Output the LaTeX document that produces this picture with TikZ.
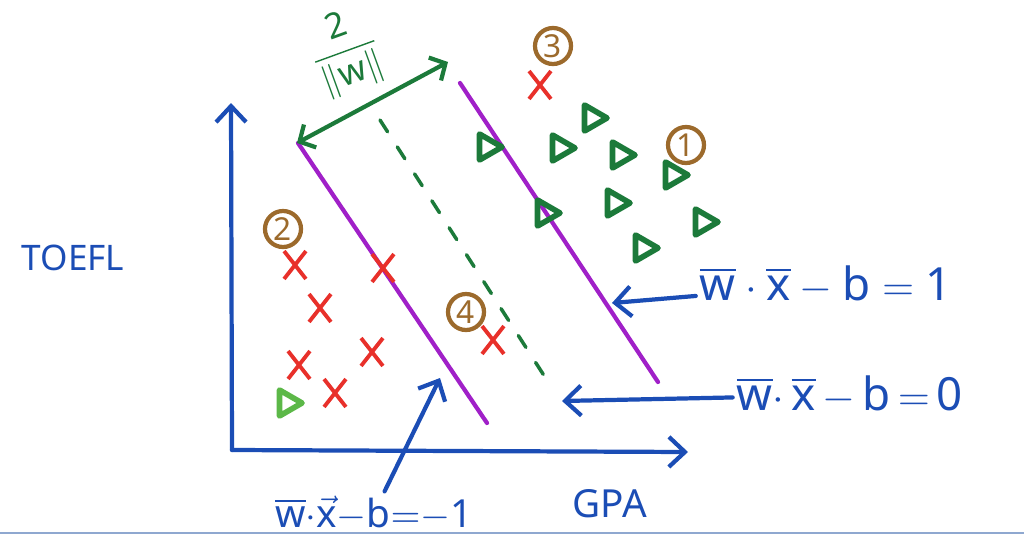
\documentclass[tikz,border=0pt]{standalone}
\usepackage{amsmath}
\usepackage{fontspec}
\setmainfont{Noto Sans}
\usepackage{tikz}
\usetikzlibrary{shapes.geometric,shapes.misc,arrows.meta}
\definecolor{penblue}{HTML}{1B4DB5}
\definecolor{penpurple}{HTML}{A020C8}
\definecolor{pengreen}{HTML}{1C7A3A}
\definecolor{penlime}{HTML}{5CB848}
\definecolor{penred}{HTML}{E8302A}
\definecolor{penbrown}{HTML}{9C6A2C}
\definecolor{pageline}{HTML}{8FA8D0}

\begin{document}
\begin{tikzpicture}[x=0.01cm,y=-0.01cm,
  pen/.style={line width=1.2pt,line cap=round,line join=round},
  barb/.style={-{Straight Barb[length=1.6mm,width=3mm]}},
  redx/.style={draw=penred,cross out,line width=1.1pt,minimum width=0.18cm,minimum height=0.24cm,inner sep=0pt},
  tri/.style={draw=pengreen,regular polygon,regular polygon sides=3,shape border rotate=-90,line width=1.6pt,line join=round,minimum size=0.3cm,inner sep=0pt},
  num/.style={circle,draw=penbrown,text=penbrown,line width=1.2pt,minimum size=0.36cm,inner sep=0pt,font=\fontsize{9}{9}\selectfont},
  eqn/.style={text=penblue,font=\fontsize{13}{15}\selectfont,inner sep=1pt},
  tag/.style={text=penblue,font=\fontsize{10}{12}\selectfont}
]
\useasboundingbox (0,0) rectangle (1024,545);
% axes
\coordinate (O) at (232,450);
\coordinate (ytip) at (231,103);
\coordinate (xtip) at (688,452);
\draw[pen,draw=penblue,barb] (O) -- (ytip);
\draw[pen,draw=penblue,barb] (O) -- (xtip);
\node[tag] (toefl) at (73,258) {TOEFL};
\node[tag,font=\fontsize{11}{12}\selectfont] (gpa) at (610,504) {GPA};
% margins and separator
\coordinate (a1) at (298,143);
\coordinate (a2) at (487,423);
\coordinate (b1) at (460,83);
\coordinate (b2) at (658,382);
\coordinate (d1) at (380,120);
\coordinate (d2) at (552,388);
\draw[pen,draw=penpurple] (a1) -- (a2);
\draw[pen,draw=penpurple] (b1) -- (b2);
\draw[pen,line width=1pt,draw=pengreen,dash pattern=on 0.14cm off 0.18cm] (d1) -- (d2);
% width of the street
\coordinate (m1) at (297,143);
\coordinate (m2) at (448,62);
\draw[pen,draw=pengreen,{Straight Barb[length=1.2mm,width=2.6mm]}-{Straight Barb[length=1.2mm,width=2.6mm]}] (m1) -- (m2);
\node[text=pengreen,rotate=20,inner sep=0pt,font=\fontsize{10}{11}\selectfont] (gap) at (345,52) {$\dfrac{\text{2}}{\|\text{w}\|}$};
% points
\node[redx] (x3) at (540,85) {};
\node[redx] (xa) at (295,265) {};
\node[redx] (xb) at (383,268) {};
\node[redx] (xc) at (320,308) {};
\node[redx] (xd) at (372,352) {};
\node[redx] (xe) at (299,365) {};
\node[redx] (xf) at (335,393) {};
\node[redx] (x4) at (493,340) {};
\node[tri] (ta) at (592,118) {};
\node[tri] (tb) at (487,147) {};
\node[tri] (tc) at (560,148) {};
\node[tri] (td) at (620,155) {};
\node[tri] (t1) at (673,175) {};
\node[tri] (te) at (615,203) {};
\node[tri] (tf) at (545,213) {};
\node[tri] (tg) at (703,222) {};
\node[tri] (th) at (643,248) {};
\node[tri,draw=penlime] (t2) at (287,403) {};
% numbered remarks
\node[num] (n3) at (553,46) {3};
\node[num] (n1) at (686,145) {1};
\node[num] (n2) at (283,229) {2};
\node[num] (n4) at (466,312) {4};
% equations
\node[eqn] (eqp) at (826,285) {$\overline{\text{w}}\cdot\overline{\text{x}}-\text{b}=\text{1}$};
\node[eqn] (eqz) at (850,395) {$\overline{\text{w}}{\cdot}\,\overline{\text{x}}\,{-}\,\text{b}\,{=}\,\text{0}$};
\node[eqn,font=\fontsize{11}{13}\selectfont] (eqm) at (374,513) {$\overline{\text{w}}{\cdot}\vec{\text{x}}{-}\text{b}{=}{-}\text{1}$};
\coordinate (tp) at (612,303);
\coordinate (tz) at (562,401);
\coordinate (tm) at (440,378);
\draw[pen,draw=penblue,barb] (eqp) -- (tp);
\draw[pen,draw=penblue,barb] (eqz) -- (tz);
\draw[pen,draw=penblue,barb] (eqm) -- (tm);
% page edge
\draw[draw=pageline,line width=0.5pt] (0,533) -- (1024,533);
\end{tikzpicture}
\end{document}
